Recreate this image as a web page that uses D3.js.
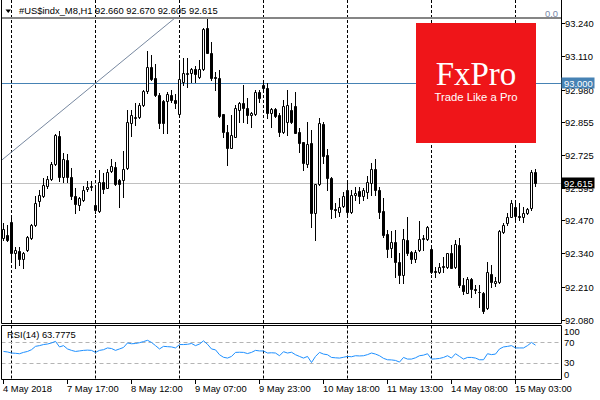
<!DOCTYPE html>
<html><head><meta charset="utf-8">
<script src="https://cdn.jsdelivr.net/npm/d3@7"></script>
<style>
body{margin:0;background:#fff}
svg{display:block}
text{font-family:"Liberation Sans",Arial,sans-serif;font-size:9.4px}
</style>
</head><body>
<svg id="c" width="600" height="400"></svg>
<script>
// ---------- data ----------
const symbolTitle = "#US$indx_M8,H1";
const opens = [92.401,92.412,92.463,92.341,92.349,92.318,92.353,92.401,92.451,92.545,
92.565,92.604,92.631,92.689,92.799,92.639,92.705,92.639,92.565,92.529,
92.549,92.592,92.600,92.529,92.506,92.619,92.596,92.662,92.678,92.627,
92.627,92.674,92.849,92.869,92.873,92.919,92.974,93.068,93.025,92.959,
92.935,92.935,92.959,92.939,92.884,93.009,93.041,93.045,93.060,93.029,
93.060,93.221,93.123,93.029,93.025,92.884,92.814,92.752,92.795,92.900,
92.927,92.908,92.880,92.884,92.970,92.998,92.986,92.888,92.904,92.880,
92.814,92.853,92.900,92.916,92.814,92.775,92.689,92.771,92.498,92.611,
92.845,92.724,92.635,92.514,92.502,92.526,92.588,92.502,92.569,92.584,
92.565,92.580,92.615,92.670,92.588,92.506,92.416,92.361,92.385,92.306,
92.256,92.393,92.345,92.318,92.353,92.397,92.397,92.357,92.271,92.268,
92.291,92.287,92.341,92.287,92.373,92.217,92.185,92.240,92.201,92.189,
92.185,92.127,92.260,92.225,92.228,92.424,92.459,92.482,92.522,92.486,
92.482,92.498,92.518,92.660];
const highs = [92.459,92.451,92.478,92.365,92.365,92.345,92.408,92.455,92.565,92.588,
92.635,92.643,92.697,92.807,92.818,92.732,92.728,92.674,92.596,92.561,
92.604,92.623,92.623,92.600,92.666,92.654,92.670,92.709,92.697,92.631,
92.740,92.900,92.900,92.927,92.927,92.978,93.131,93.115,93.080,92.966,
92.939,92.970,92.978,92.962,93.088,93.103,93.103,93.064,93.072,93.096,
93.221,93.256,93.166,93.049,93.056,92.884,92.842,92.880,92.919,92.931,
92.998,92.947,92.892,92.978,92.978,93.009,93.006,92.908,92.908,92.888,
92.939,92.978,92.927,92.970,92.830,92.775,92.853,92.822,92.611,92.869,
92.853,92.748,92.639,92.537,92.557,92.580,92.627,92.588,92.600,92.600,
92.596,92.643,92.693,92.709,92.600,92.557,92.432,92.428,92.432,92.341,
92.436,92.482,92.349,92.353,92.467,92.412,92.447,92.361,92.287,92.302,
92.326,92.341,92.373,92.393,92.401,92.244,92.248,92.244,92.217,92.217,
92.189,92.306,92.295,92.248,92.432,92.459,92.498,92.549,92.549,92.537,
92.522,92.518,92.666,92.670];
const lows = [92.393,92.389,92.318,92.283,92.295,92.283,92.349,92.397,92.447,92.526,
92.561,92.596,92.627,92.685,92.623,92.619,92.619,92.553,92.498,92.510,
92.545,92.584,92.588,92.498,92.502,92.576,92.596,92.658,92.608,92.522,
92.561,92.670,92.799,92.841,92.869,92.916,92.966,93.017,92.955,92.830,
92.810,92.810,92.931,92.908,92.880,92.998,92.990,93.009,93.009,93.025,
93.056,93.123,93.017,92.978,92.873,92.795,92.685,92.752,92.795,92.853,
92.853,92.849,92.834,92.880,92.931,92.970,92.869,92.834,92.873,92.799,
92.810,92.803,92.849,92.810,92.736,92.666,92.678,92.443,92.393,92.608,
92.693,92.588,92.478,92.482,92.486,92.522,92.490,92.498,92.549,92.537,
92.549,92.557,92.569,92.569,92.478,92.404,92.326,92.326,92.248,92.225,
92.225,92.334,92.302,92.306,92.349,92.353,92.393,92.264,92.248,92.264,
92.268,92.283,92.283,92.283,92.209,92.181,92.185,92.170,92.185,92.131,
92.107,92.123,92.209,92.213,92.225,92.420,92.451,92.482,92.475,92.471,
92.463,92.494,92.510,92.605];
const closes = [92.436,92.393,92.341,92.353,92.318,92.341,92.404,92.451,92.537,92.569,
92.608,92.631,92.689,92.803,92.639,92.709,92.639,92.565,92.533,92.557,
92.588,92.600,92.604,92.510,92.619,92.592,92.658,92.682,92.611,92.611,
92.670,92.853,92.880,92.873,92.919,92.974,93.068,93.021,92.959,92.849,
92.849,92.962,92.939,92.927,93.021,93.045,93.045,93.060,93.041,93.060,
93.217,93.123,93.025,93.025,92.877,92.814,92.752,92.803,92.908,92.927,
92.908,92.880,92.888,92.970,92.947,92.986,92.888,92.904,92.877,92.814,
92.916,92.919,92.853,92.810,92.771,92.693,92.767,92.498,92.611,92.849,
92.720,92.635,92.514,92.510,92.522,92.565,92.502,92.569,92.576,92.565,
92.588,92.619,92.670,92.588,92.502,92.412,92.357,92.385,92.306,92.256,
92.397,92.341,92.318,92.345,92.397,92.401,92.443,92.268,92.268,92.287,
92.287,92.341,92.283,92.377,92.217,92.193,92.240,92.201,92.197,92.189,
92.115,92.268,92.228,92.232,92.428,92.451,92.482,92.537,92.486,92.482,
92.498,92.514,92.658,92.615];
const rsiValues = [52,51,49,48.5,47.7,50.2,52,55.3,61.6,63,
65,66,68,71,60.5,63,56.7,54,52,53,
54,54.5,54,50.2,54,55.3,58.6,57.5,54,56.7,
59.5,68,66.5,67,68.5,70.6,73,69,63,56.7,
61.6,61,60.5,58.6,65,65,65.5,67,63,66,
72,65.5,56.7,55,45.8,41,39.5,42.6,50.2,50.5,
50.2,48,50.2,54,53,52.9,49,49.5,49,43.9,
51.5,49,50.5,45.8,42.6,39.5,42.6,31.1,42.6,50.2,
47,45.8,40.7,40,39.5,41,42.6,42,43.9,43.5,
43.9,46,49,47,43.9,39,36.3,36,35,31.9,
40.7,37.6,37.6,40,43.9,45,47.7,37.6,38,38.8,
40.7,43.9,39.5,47.7,42.6,37.6,40.7,40.7,39.5,36.3,
36.3,47.7,46,47,56.7,60.5,61.5,63,58.6,58.6,
58.6,63,69,63.7775];
const timeLabels = ["4 May 2018","7 May 17:00","8 May 12:00","9 May 07:00","9 May 23:00","10 May 18:00","11 May 13:00","14 May 08:00","15 May 03:00"];
const timeLabelBars = [0,16,32,48,64,80,96,112,128];
const gridBars = [2,23,44,65,86,107,128];
const priceTicks = [93.240,93.110,92.980,92.855,92.725,92.595,92.470,92.340,92.210,92.080];
const rsiTicks = [100,70,30,0];
const rsiLevels = [70,30];
const levelPrice = 93.000;
const topLinePrice = 93.259;
const trendBars = [-0.4,42.9];
const trendPrices = [92.705,93.260];
const rsiName = "RSI(14)";

// ---------- layout ----------
const L = 1.5, R = 561.5;
const mainTop = 0, mainBot = 323.5, rsiTop = 325.5, rsiBot = 379.5;
const svg = d3.select("#c");
const fmt = d3.format(".3f");

const n = closes.length;
const x = d3.scaleLinear().domain([0, n - 1]).range([3.5, 3.5 + 4 * (n - 1)]);
const y = d3.scaleLinear().domain([92.080, 93.240]).range([320, 23]);
const ry = d3.scaleLinear().domain([0, 100]).range([379, 326]);
const px = v => Math.round(v) + 0.5;

const defs = svg.append("defs");
defs.append("clipPath").attr("id","cm").append("rect").attr("x",L+0.5).attr("y",mainTop).attr("width",R-L-1).attr("height",mainBot-mainTop-0.5);
defs.append("clipPath").attr("id","cr").append("rect").attr("x",L+0.5).attr("y",rsiTop+0.5).attr("width",R-L-1).attr("height",rsiBot-rsiTop-1);

// grid
const grid = svg.append("g").attr("stroke","#000").attr("stroke-width",1).attr("stroke-dasharray","3,2");
gridBars.forEach(b => {
  grid.append("line").attr("x1",x(b)).attr("x2",x(b)).attr("y1",mainTop).attr("y2",mainBot);
  grid.append("line").attr("x1",x(b)).attr("x2",x(b)).attr("y1",rsiTop).attr("y2",rsiBot);
});

const main = svg.append("g").attr("clip-path","url(#cm)");
main.append("line").attr("x1",L).attr("x2",R).attr("y1",Math.round(y(topLinePrice))).attr("y2",Math.round(y(topLinePrice)))
  .attr("stroke","#858585").attr("stroke-width",2);
main.append("line").attr("x1",L).attr("x2",R).attr("y1",px(y(levelPrice))-1).attr("y2",px(y(levelPrice))-1)
  .attr("stroke","#4682B4").attr("stroke-width",1);
main.append("line").attr("x1",L).attr("x2",R).attr("y1",px(y(closes[n-1]))).attr("y2",px(y(closes[n-1])))
  .attr("stroke","#C0C0C0").attr("stroke-width",1);
main.append("line").attr("x1",x(trendBars[0])).attr("x2",x(trendBars[1]))
  .attr("y1",y(trendPrices[0])).attr("y2",y(trendPrices[1]))
  .attr("stroke","#7788a0").attr("stroke-width",1);

// candles
const cg = main.append("g");
for (let i = 0; i < n; i++) {
  const cx = x(i);
  cg.append("line").attr("x1",cx).attr("x2",cx).attr("y1",px(y(highs[i]))-0.5).attr("y2",px(y(lows[i]))+0.5)
    .attr("stroke","#000").attr("stroke-width",1);
  const t = px(y(Math.max(opens[i],closes[i]))), b = px(y(Math.min(opens[i],closes[i])));
  const bull = closes[i] >= opens[i];
  cg.append("path").attr("d",`M${cx-1},${t}H${cx+1}V${b}H${cx-1}Z`)
    .attr("fill", bull ? "#fff" : "#000").attr("stroke","#000").attr("stroke-width",1);
}

// logo
const logo = svg.append("g");
logo.append("rect").attr("x",416).attr("y",23).attr("width",120).attr("height",120).attr("fill","#EF1519");
logo.append("text").attr("x",476).attr("y",85).attr("text-anchor","middle")
  .style("font-family",'"Liberation Serif","Times New Roman",serif').style("font-size","33px").attr("fill","#fff").text("FxPro");
logo.append("text").attr("x",476).attr("y",101).attr("text-anchor","middle")
  .style("font-size","11.3px").attr("fill","#fff").text("Trade Like a Pro");

// frames
const fr = svg.append("g").attr("stroke","#000").attr("stroke-width",1).attr("fill","none");
fr.append("path").attr("d",`M${L},${mainTop}V${mainBot}H${R}V${mainTop}`);
fr.append("path").attr("d",`M${L},${rsiTop}H${R}V${rsiBot}H${L}Z`);

// title
svg.append("path").attr("d","M5.5,9.5H11L8.25,13Z").attr("fill","#000");
svg.append("text").attr("x",19).attr("y",14).attr("fill","#000")
  .text(symbolTitle + " " + [opens[n-1],highs[n-1],lows[n-1],closes[n-1]].map(fmt).join(" "));
svg.append("text").attr("x",558).attr("y",16.5).attr("text-anchor","end").attr("fill","#7888a8").text("0.0");

// price axis
const pa = svg.append("g");
priceTicks.forEach(p => {
  const yy = px(y(p));
  pa.append("line").attr("x1",R).attr("x2",R+3.5).attr("y1",yy).attr("y2",yy).attr("stroke","#000");
  pa.append("text").attr("x",565).attr("y",yy).attr("dy","0.35em").attr("fill","#000").text(fmt(p));
});
function tag(p, bg, off) {
  const yy = px(y(p)) + off;
  pa.append("rect").attr("x",R).attr("y",yy-6).attr("width",33).attr("height",11).attr("fill",bg);
  pa.append("text").attr("x",564).attr("y",yy).attr("dy","0.35em").attr("fill","#fff").text(fmt(p));
}
tag(levelPrice, "#4682B4", -1);
tag(closes[n-1], "#000", 0);

// RSI
const rg = svg.append("g").attr("clip-path","url(#cr)");
rsiLevels.forEach(v => {
  rg.append("line").attr("x1",L).attr("x2",R).attr("y1",px(ry(v))).attr("y2",px(ry(v)))
    .attr("stroke","#B4B4B4").attr("stroke-dasharray","4,3");
});
rg.append("path").datum(rsiValues)
  .attr("d", d3.line().x((d,i)=>x(i)).y(d=>ry(d)))
  .attr("fill","none").attr("stroke","#1E90FF").attr("stroke-width",1);
svg.append("text").attr("x",7).attr("y",338).attr("fill","#000").text(rsiName + " " + rsiValues[n-1].toFixed(4));
rsiTicks.forEach(v => {
  const yy = Math.max(rsiTop + 6.5, Math.min(rsiBot - 5, ry(v) + (v > 50 ? 1 : 0)));
  svg.append("text").attr("x",564).attr("y",yy).attr("dy","0.35em").attr("fill","#000").text(v);
});

// time axis
const ta = svg.append("g");
timeLabelBars.forEach((b, k) => {
  ta.append("line").attr("x1",x(b)).attr("x2",x(b)).attr("y1",rsiBot).attr("y2",rsiBot+4.5).attr("stroke","#000");
  ta.append("text").attr("x",x(b)-0.5).attr("y",392).attr("fill","#000").text(timeLabels[k]);
});
</script>
</body></html>
